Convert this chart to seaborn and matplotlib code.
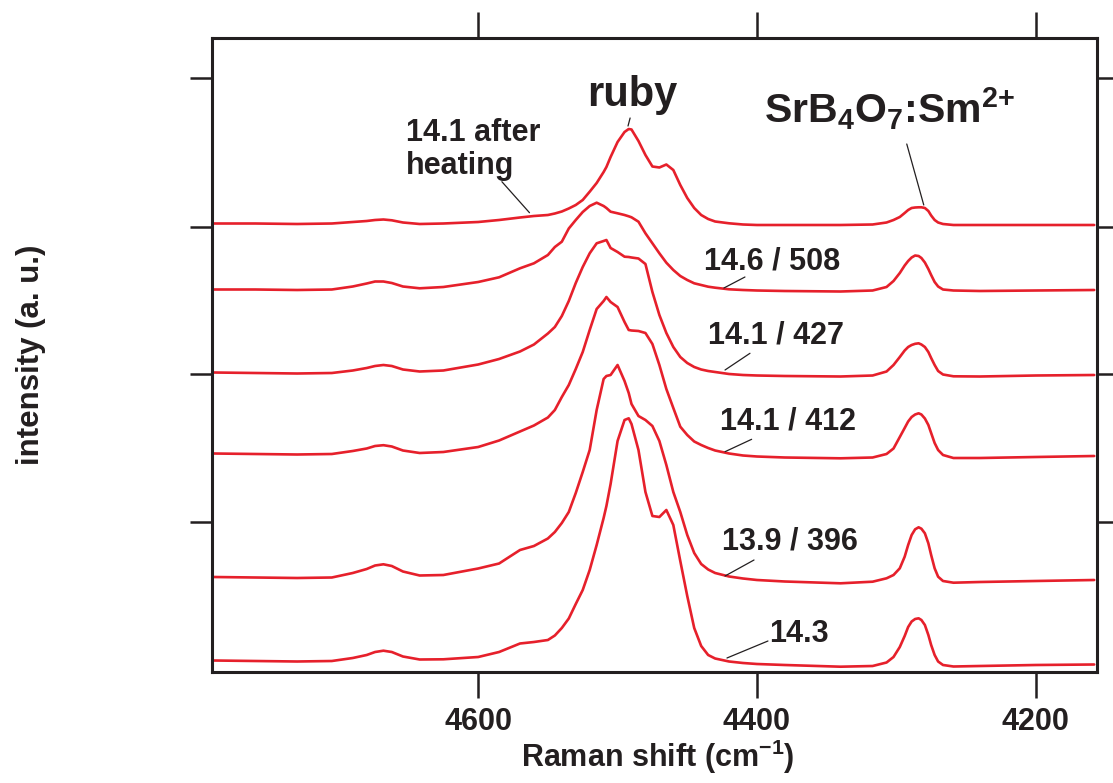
import matplotlib
matplotlib.use("Agg")
import matplotlib.pyplot as plt
import pandas as pd
import seaborn as sns

# ---------------- data ----------------
shift_cm = [4790, 4760, 4730, 4705, 4690, 4680, 4674, 4668, 4662, 4654, 4642, 4625, 4600,
            4585, 4570, 4560, 4550, 4545, 4540, 4535, 4530, 4525, 4520, 4515, 4510, 4508,
            4505, 4500, 4495, 4492, 4490, 4485, 4480, 4475, 4470, 4465,
            4460, 4455, 4450, 4445, 4440, 4435, 4430, 4420, 4410, 4400,
            4380, 4340, 4317, 4307, 4302, 4297.5, 4294, 4291.5, 4289, 4286.5, 4284,
            4282, 4279.5, 4277, 4275, 4272.5, 4270, 4266.5, 4259, 4240, 4200, 4158]

after_heating = [446.5, 446.5, 446, 446.5, 448, 449, 450, 450.5, 449.7, 447.5, 446, 446.5, 448,
                 450, 452.5, 454, 455, 456.5, 458.5, 461.5, 465, 470, 478.3, 487, 498, 503,
                 513, 528, 538, 541, 540.5, 529, 515, 503.5, 502.5, 505.5,
                 500, 485, 472, 462, 455, 451, 448.5, 446.7, 445.5, 445,
                 445, 445, 445.5, 447.5, 450, 453, 457, 460, 462, 462.5, 462.7,
                 462.7, 462, 459, 454.5, 450, 447.5, 446, 445, 445, 445, 445]

s_146_508 = [380.5, 380.5, 380, 380.5, 383.5, 386.5, 388.5, 388.5, 387, 383.5, 381.7, 383, 388,
             392.7, 401.7, 406.7, 415, 423, 428.3, 441.5, 450, 458, 464, 467.3, 464, 462,
             458.3, 456.7, 455, 453.7, 452.7, 448.3, 436.7, 426.7, 416.7, 407.3,
             400, 394, 390, 386.7, 385, 383.3, 382.3, 380.7, 380, 379.5,
             379, 378.5, 379.5, 383, 389, 397, 404.5, 409, 412.5, 414.5, 414,
             412, 407.5, 401, 395, 388, 383.5, 380.5, 379.5, 379, 379.5, 380]

s_141_427 = [297.5, 297, 296.5, 297, 299.5, 302, 304, 305, 304, 300.5, 298.5, 299.5, 305.5,
             311, 318.5, 325.5, 336.5, 343, 354, 369, 387, 403, 416.7, 426.7, 429, 430,
             422, 418, 413.3, 413, 412.5, 411.5, 406, 378, 355, 337,
             323, 313, 307, 303, 300.5, 299, 298, 296, 295, 294.5,
             294, 293.5, 294.5, 298.5, 305, 313, 319.5, 323, 325, 326.2, 326.7,
             325.5, 323, 318, 312, 305, 299, 295.5, 293.7, 293.5, 294.5, 295]

s_141_412 = [216.5, 216, 215.5, 216, 219, 221.5, 224, 224.8, 223.5, 219.5, 217, 218, 223,
             229.5, 238.5, 244.5, 252.5, 260, 273, 285, 301, 318, 340, 361, 369, 373,
             368, 363, 348, 340, 339.5, 339, 337, 326, 305, 281,
             262, 243.3, 235, 228.5, 225, 222, 219.5, 216.5, 214.5, 213.5,
             212.5, 211.7, 212.5, 216, 221.5, 233, 242, 248.5, 253, 255.5, 256.7,
             255.5, 251.5, 245, 237, 227, 220, 215, 212, 212, 213, 214]

s_139_396 = [93, 92.5, 92, 92.5, 97, 101, 104.5, 105.7, 104, 98.5, 94.5, 95, 101.5,
             106.5, 120, 124, 131.5, 138, 147, 158, 177, 198, 220, 260, 291, 294,
             295, 305, 289, 277, 266, 254, 250, 244, 229, 205,
             178, 158, 135, 117, 106, 100.5, 97, 93.5, 91.5, 90,
             88.5, 86.7, 88.3, 91.7, 95, 101.7, 113.3, 125, 135, 140.7, 142.7,
             141.3, 136.7, 126.7, 115, 101.7, 93.3, 89, 87.3, 88, 89, 90]

s_143 = [9.5, 9, 8.5, 9, 12, 15, 18, 19.3, 18, 13.5, 10.5, 10.7, 13,
         18, 26.5, 28, 30, 34.5, 42, 51.5, 66, 80, 100, 125, 152, 164,
         186, 229, 250, 251.7, 246, 220, 178, 154, 153, 160,
         145, 109, 74, 42, 24, 15, 11.5, 8.5, 7, 6,
         5, 3.3, 4, 7.5, 13, 23, 34, 43, 48.5, 51, 51.7,
         50, 45, 35, 25, 15, 8.5, 5, 3.5, 4, 5, 5.5]

spectrum_names = ["14.1 after heating", "14.6 / 508", "14.1 / 427",
                  "14.1 / 412", "13.9 / 396", "14.3"]
spectra = [after_heating, s_146_508, s_141_427, s_141_412, s_139_396, s_143]

x_ticks = [4600, 4400, 4200]

# ---------------- style ----------------
sns.set_style("ticks")
plt.rcParams["font.family"] = ["Liberation Sans", "DejaVu Sans"]
plt.rcParams["font.weight"] = "bold"
plt.rcParams["mathtext.fontset"] = "custom"
plt.rcParams["mathtext.rm"] = "Liberation Sans:bold"
plt.rcParams["mathtext.bf"] = "Liberation Sans:bold"
plt.rcParams["mathtext.it"] = "Liberation Sans:bold"
plt.rcParams["mathtext.default"] = "rm"

RED = "#E6202B"
INK = "#231F20"

fig = plt.figure(figsize=(11.13, 7.83), dpi=100)
ax = fig.add_axes([212 / 1113, 1 - 672 / 783, 885 / 1113, 634 / 783])

df = pd.concat(
    [pd.DataFrame({"shift": shift_cm, "intensity": vals, "spectrum": name})
     for name, vals in zip(spectrum_names, spectra)],
    ignore_index=True)

sns.lineplot(data=df, x="shift", y="intensity", units="spectrum",
             estimator=None, sort=False, color=RED, lw=1.9, ax=ax,
             legend=False)

ax.set_xlim(4791, 4156)
ax.set_ylim(-2, 632)
ax.set_xticks(x_ticks)
ax.set_xticklabels([str(t) for t in x_ticks])
ax.set_yticks([148, 296, 443, 592])
ax.set_yticklabels([])

for s in ax.spines.values():
    s.set_linewidth(2.2)
    s.set_color(INK)
    s.set_visible(True)

ax.tick_params(axis="x", which="major", direction="out", length=19, width=1.8,
               color=INK, top=True, bottom=True, labeltop=False,
               labelsize=22, pad=6, labelcolor=INK)
ax.tick_params(axis="y", which="major", direction="out", length=16, width=1.8,
               color=INK, left=True, right=True, labelleft=False,
               labelright=False)
for lab in ax.get_xticklabels():
    lab.set_fontweight("bold")

ax.set_xlabel(r"Raman shift (cm$^{-1}$)", fontsize=22, fontweight="bold",
              color=INK, va="center")
ax.xaxis.set_label_coords((658 - 212) / 885, (672 - 757) / 634)
ax.set_ylabel("intensity (a. u.)", fontsize=22.5, fontweight="bold",
              color=INK, va="center")
ax.yaxis.set_label_coords((31 - 212) / 885, (672 - 355) / 634)

# ---------------- annotations ----------------
label_texts = ["14.1 after\nheating", "ruby", r"SrB$_4$O$_7$:Sm$^{2{+}}$",
               "14.6 / 508", "14.1 / 427", "14.1 / 412", "13.9 / 396", "14.3"]
label_pos = [(4651.6, 552), (4489.6, 564), (4304.7, 547),
             (4389.2, 400), (4386.4, 326), (4377.8, 240), (4376.0, 120),
             (4369.9, 28)]
label_size = [22, 30, 29.5, 22, 22, 22, 22, 22]
label_ha = ["left", "center", "center", "center", "center", "center",
            "center", "center"]
label_va = ["top", "baseline", "baseline", "baseline", "baseline",
            "baseline", "baseline", "baseline"]

for t, (x, y), sz, ha, va in zip(label_texts, label_pos, label_size,
                                 label_ha, label_va):
    ax.text(x, y, t, fontsize=sz, fontweight="bold", color=INK, ha=ha,
            va=va, linespacing=1.15)

leader_start = [(4583.0, 488.3), (4491.0, 552), (4292.5, 526),
                (4408.6, 393), (4405.0, 316.7), (4403.8, 230.7),
                (4402.1, 110), (4392.1, 29)]
leader_end = [(4563.2, 457.3), (4492.5, 544), (4280.3, 465),
              (4423.7, 382), (4422.9, 300), (4422.9, 218.3),
              (4422.9, 94), (4421.5, 12)]
for a, b in zip(leader_start, leader_end):
    ax.annotate("", xy=b, xytext=a,
                arrowprops=dict(arrowstyle="-", lw=0.9, color=INK,
                                shrinkA=0, shrinkB=0))

fig.savefig("out.png", dpi=100)
